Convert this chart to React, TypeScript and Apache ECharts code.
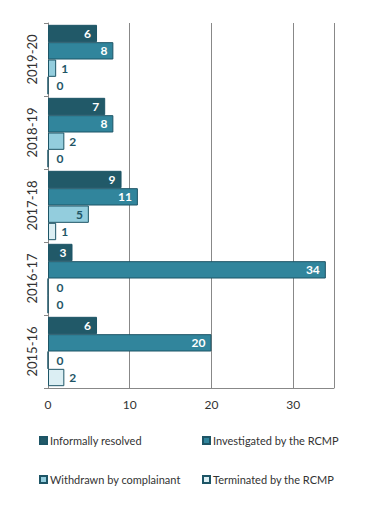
import React, { useEffect, useRef } from "react";
import * as echarts from "echarts";

const categories = ["2019-20", "2018-19", "2017-18", "2016-17", "2015-16"];
const seriesNames = [
  "Informally resolved",
  "Investigated by the RCMP",
  "Withdrawn by complainant",
  "Terminated by the RCMP",
];
const informallyResolved = [6, 7, 9, 3, 6];
const investigated = [8, 8, 11, 34, 20];
const withdrawn = [1, 2, 5, 0, 0];
const terminated = [0, 0, 1, 0, 2];
const xTicks = [0, 10, 20, 30];

const colors = ["#215968", "#31859c", "#93cddd", "#dbeef3"];
const labelColors = ["#ffffff", "#ffffff", "#1f5566", "#1f5566"];
const FONT = "Lato, 'DejaVu Sans', sans-serif";

export default function App() {
  const ref = useRef<HTMLDivElement>(null);
  useEffect(() => {
    if (!ref.current) return;
    const chart = echarts.init(ref.current, undefined, { renderer: "svg" });
    const allData = [informallyResolved, investigated, withdrawn, terminated];
    const series = allData.map((vals, si) => ({
      name: seriesNames[si],
      type: "bar",
      barGap: "0%",
      barCategoryGap: "5%",
      itemStyle: { color: colors[si], borderColor: "#1d5566", borderWidth: 1 },
      data: vals.map((v) => {
        const inside = v >= 3;
        return {
          value: v,
          label: {
            show: true,
            position: inside ? "insideRight" : "right",
            distance: inside ? 6 : v === 0 ? 8 : 5,
            color: inside ? labelColors[si] : "#1f5566",
            fontWeight: "bold",
            fontSize: 12,
            fontFamily: FONT,
          },
        };
      }),
    }));
    const legendPos = [
      { left: 34, top: 430 },
      { left: 197, top: 430 },
      { left: 34, top: 469 },
      { left: 197, top: 469 },
    ];
    chart.setOption({
      animation: false,
      textStyle: { fontFamily: FONT },
      grid: { left: 48, top: 23, right: 41, bottom: 124, containLabel: false },
      xAxis: {
        type: "value",
        min: 0,
        max: 35,
        interval: 10,
        axisLine: { show: true, lineStyle: { color: "#888", width: 1 } },
        axisTick: { show: false },
        splitLine: { show: true, lineStyle: { color: "#888", width: 1 } },
        axisLabel: {
          color: "#333",
          fontSize: 12,
          margin: 10,
          fontFamily: FONT,
          formatter: (v: number) => (xTicks.includes(v) ? String(v) : ""),
        },
      },
      yAxis: {
        type: "category",
        inverse: true,
        data: categories,
        axisLine: { show: true, lineStyle: { color: "#888", width: 1 } },
        axisTick: { show: true, length: 4, lineStyle: { color: "#888" } },
        axisLabel: {
          rotate: 90,
          color: "#333",
          fontSize: 13,
          margin: 10,
          fontFamily: FONT,
        },
      },
      legend: seriesNames.map((n, i) => ({
        data: [n],
        left: legendPos[i].left,
        top: legendPos[i].top,
        itemWidth: 7,
        itemHeight: 7,
        itemGap: 3,
        icon: "rect",
        textStyle: { color: "#333", fontSize: 11, fontFamily: FONT, padding: [0, 0, 0, -2] },
      })),
      series,
    });
    return () => chart.dispose();
  }, []);
  return <div ref={ref} style={{ width: 375, height: 512, margin: -8 }} />;
}
